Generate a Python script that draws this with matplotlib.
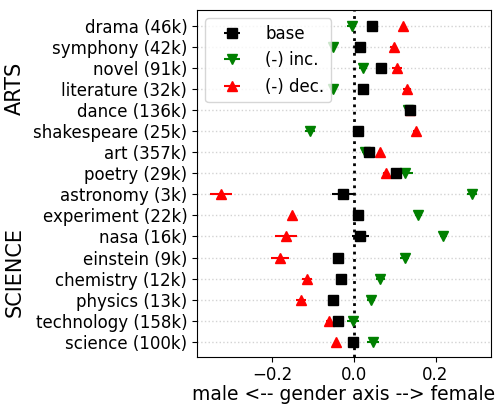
import numpy as np
import matplotlib
matplotlib.use("Agg")
import matplotlib.pyplot as plt

# word list, top to bottom
words = ["drama (46k)", "symphony (42k)", "novel (91k)", "literature (32k)",
         "dance (136k)", "shakespeare (25k)", "art (357k)", "poetry (29k)",
         "astronomy (3k)", "experiment (22k)", "nasa (16k)", "einstein (9k)",
         "chemistry (12k)", "physics (13k)", "technology (158k)",
         "science (100k)"]

# position on gender axis
base = [0.043, 0.015, 0.066, 0.023, 0.137, 0.011, 0.038, 0.103,
        -0.026, 0.009, 0.015, -0.038, -0.033, -0.052, -0.038, -0.002]
inc = [-0.006, -0.051, 0.023, -0.051, 0.133, -0.108, 0.027, 0.124,
       0.289, 0.158, 0.219, 0.124, 0.065, 0.041, -0.002, 0.046]
dec = [0.121, 0.097, 0.105, 0.129, 0.137, 0.151, 0.064, 0.078,
       -0.326, -0.151, -0.167, -0.182, -0.116, -0.130, -0.061, -0.043]

# error bars
base_err = [0.012, 0.008, 0.008, 0.010, 0.010, 0.008, 0.010, 0.012,
            0.029, 0.010, 0.021, 0.008, 0.006, 0.010, 0.010, 0.008]
inc_err = [0.010, 0.006, 0.010, 0.008, 0.008, 0.012, 0.008, 0.020,
           0.013, 0.008, 0.008, 0.012, 0.012, 0.010, 0.015, 0.015]
dec_err = [0.006, 0.008, 0.012, 0.010, 0.010, 0.006, 0.006, 0.008,
           0.028, 0.006, 0.027, 0.022, 0.012, 0.012, 0.008, 0.006]

y = np.arange(len(words))[::-1]

fig = plt.figure(figsize=(5.03, 4.05), dpi=100)
ax = fig.add_axes([197/503, 1 - 357/405, 294/503, 347/405])

for yy in y:
    ax.axhline(yy, color="lightgray", linestyle=":", linewidth=1, zorder=0)
ax.axvline(0, color="black", linestyle=":", linewidth=2, zorder=1)

ax.errorbar(base, y, xerr=base_err, fmt="s", color="black", markersize=7,
            label="base", zorder=3)
ax.errorbar(inc, y, xerr=inc_err, fmt="v", color="green", markersize=7,
            label="(-) inc.", zorder=2)
ax.errorbar(dec, y, xerr=dec_err, fmt="^", color="red", markersize=7,
            label="(-) dec.", zorder=2)

ax.set_yticks(y)
ax.set_yticklabels(words, fontsize=12)
ax.set_xticks([-0.2, 0.0, 0.2])
ax.tick_params(axis="x", labelsize=12, pad=3)
ax.set_xlim(-0.385, 0.336)
ax.set_ylim(-0.72, 15.75)
ax.set_xlabel("male <-- gender axis --> female", fontsize=13.5, labelpad=1)

ax.legend(loc="upper left", fontsize=12, handlelength=2.4,
          borderaxespad=0.5)

fig.text(15/503, 1 - 88/405, "ARTS", rotation=90, fontsize=15,
         ha="center", va="center")
fig.text(15/503, 1 - 272/405, "SCIENCE", rotation=90, fontsize=15,
         ha="center", va="center")

fig.savefig("out.png", dpi=100)
